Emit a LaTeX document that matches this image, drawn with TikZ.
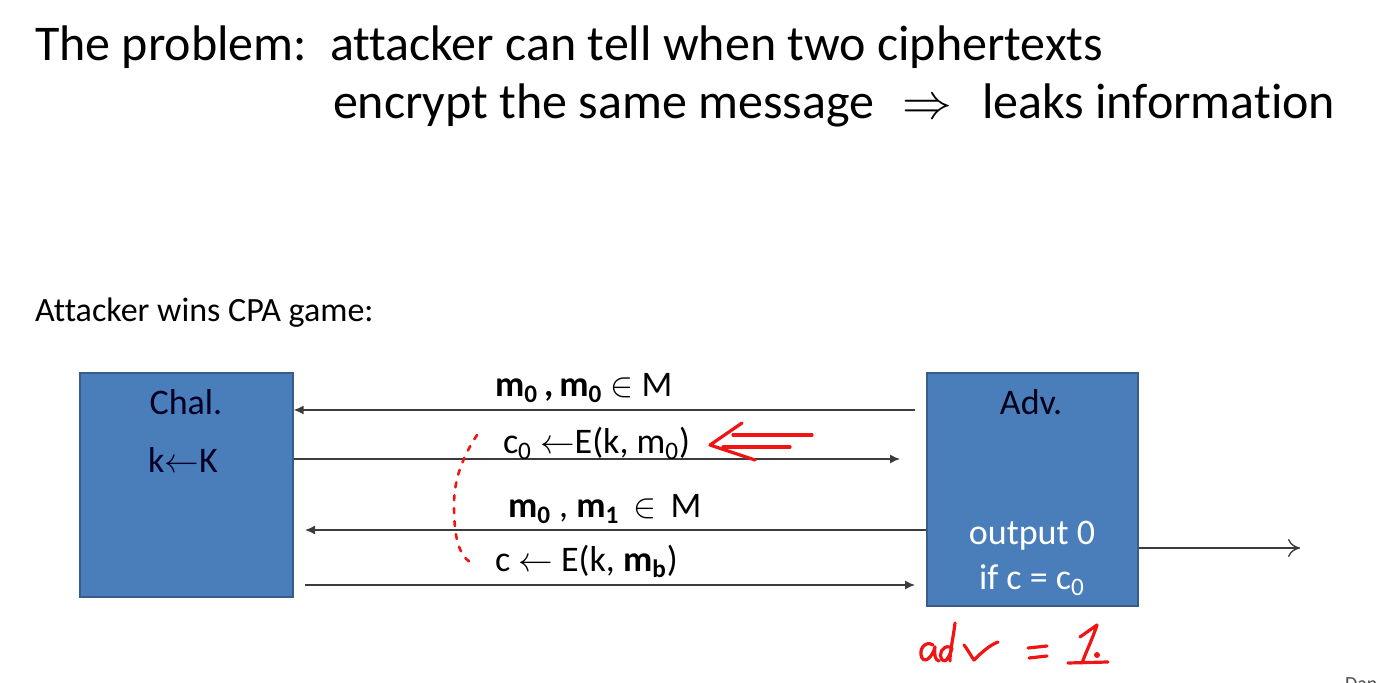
\documentclass[tikz,border=0pt]{standalone}
\usepackage{fontspec}
\setmainfont{Carlito}[RawFeature={-liga;-clig;-dlig}]
\usetikzlibrary{arrows.meta}
\definecolor{boxfill}{RGB}{74,126,187}
\definecolor{boxline}{RGB}{56,93,138}
\definecolor{lnc}{RGB}{60,60,60}
\definecolor{inkred}{RGB}{240,20,20}
\begin{document}
\begin{tikzpicture}[x=0.5pt,y=-0.5pt,
  txt/.style={anchor=base west,inner sep=0pt,outer sep=0pt},
  title/.style={txt,font=\fontsize{25}{30}\selectfont},
  mid/.style={txt,font=\fontsize{18}{21}\selectfont},
  agent/.style={draw=boxline,fill=boxfill,line width=0.6pt,inner sep=0pt},
  msg/.style={draw=lnc,line width=0.7pt,-{Latex[length=5pt,width=4.5pt]}},
  ink/.style={draw=inkred,line width=1.6pt,line cap=round,line join=round}]
\useasboundingbox (0,0) rectangle (1376,683);
% title
\node[title] (t1) at (35,61) {The problem:};
\node[title] (t2) at (330,61) {attacker can tell when two ciphertexts};
\node[title] (t3) at (333,119) {encrypt the same message};
\node[title] (t4) at (902,119) {$\Rightarrow$};
\node[title] (t5) at (982,119) {leaks information};
\node[txt,font=\fontsize{17}{20}\selectfont] (sub) at (35,322) {Attacker wins CPA game:};
% boxes
\node[agent,minimum width=106.5pt,minimum height=112pt] (chal) at (186.5,485) {};
\node[agent,minimum width=105.5pt,minimum height=116.5pt] (adv) at (1032.5,489.5) {};
\node[mid,anchor=base,text=black!85!blue] (chalt) at (186,415) {Chal.};
\node[mid,anchor=base,text=black!85!blue] (chalk) at (183,473) {k$\leftarrow$K};
\node[mid,anchor=base,text=black!90!blue] (advt) at (1031,415) {Adv.};
\node[mid,anchor=base,text=white] (out1) at (1032,545) {output 0};
\node[mid,anchor=base,text=white] (out2) at (1032,590) {if c = c\textsubscript{0}};
% connector end points
\coordinate (a1s) at (915,410);
\coordinate (a2e) at (900,459);
\coordinate (a3e) at (305,530);
\coordinate (a4s) at (305,585);
\coordinate (a4e) at (915,585);
\coordinate (oute) at (1300,548);
\draw[msg] (a1s) -- (chal.east |- a1s);
\draw[msg] (chal.east |- a2e) -- (a2e);
\draw[msg] (adv.west |- a3e) -- (a3e);
\draw[msg] (a4s) -- (a4e);
\draw[draw=lnc,line width=0.7pt,-{To[length=6pt,width=9pt]}] (adv.east |- oute) -- (oute);
% labels
\node[mid] (l1) at (495,397) {\textbf{m\textsubscript{0}\,,\,m\textsubscript{0}} $\in$ M};
\node[mid] (l2) at (503,454) {c\textsubscript{0} $\leftarrow$E(k, m\textsubscript{0})};
\node[mid] (l3) at (508,518) {\textbf{m\textsubscript{0}} , \textbf{m\textsubscript{1}} \,$\in$\, M};
\node[mid] (l4) at (495,572) {c $\leftarrow$ E(k, \textbf{m\textsubscript{b}})};
% red ink
\draw[ink,dash pattern=on 2.5pt off 4pt,line width=1.3pt] (477,435) .. controls (462,458) and (454,480) .. (454,505) .. controls (454,535) and (458,558) .. (474,564);
\draw[ink] (742,423) -- (710,445) -- (755,460);
\draw[ink] (733,435) -- (812,435);
\draw[ink] (723,447) -- (790,447);
% adv = 1.
\draw[ink] (933,645) .. controls (925,640) and (918,650) .. (922,658) .. controls (926,664) and (933,655) .. (935,647) .. controls (934,655) and (935,660) .. (939,661);
\draw[ink] (950,647) .. controls (942,645) and (938,655) .. (942,660) .. controls (946,664) and (950,655) .. (952,648);
\draw[ink] (955,623) .. controls (953,640) and (950,650) .. (950,661);
\draw[ink] (964,645) .. controls (968,650) and (971,656) .. (974,660) .. controls (982,652) and (990,645) .. (998,642);
\draw[ink] (1028,648) -- (1047,646);
\draw[ink] (1029,658) -- (1047,656);
\draw[ink] (1080,637) -- (1097,625) .. controls (1092,640) and (1086,652) .. (1082,663);
\draw[ink] (1068,663) -- (1108,662);
\fill[inkred] (1097,655) circle (1.5pt);
% corner
\begin{scope}
\clip (0,0) rectangle (1376,683);
\node[txt,font=\fontsize{10}{12}\selectfont,text=black!70] (dan) at (1345,690) {Dan};
\end{scope}
\end{tikzpicture}
\end{document}
